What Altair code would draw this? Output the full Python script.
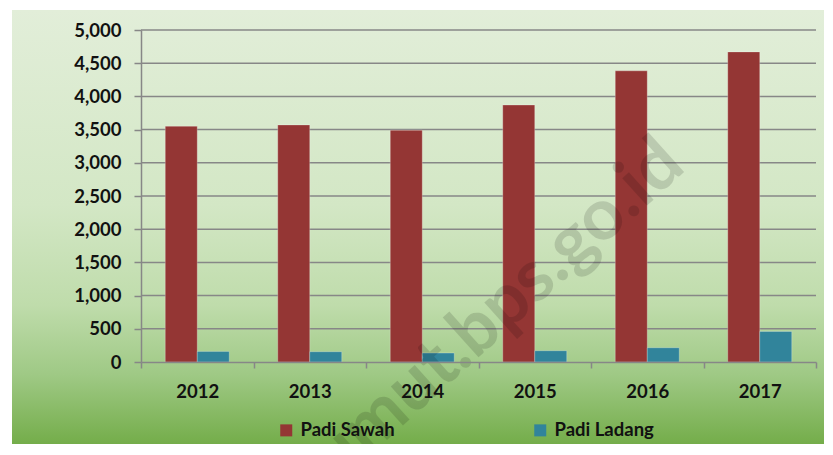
import altair as alt
import pandas as pd

# ---- data ----
years = ["2012", "2013", "2014", "2015", "2016", "2017"]
padi_sawah = [3550, 3570, 3490, 3870, 4385, 4670]
padi_ladang = [160, 155, 135, 170, 215, 460]
series = ["Padi Sawah", "Padi Ladang"]
series_colors = ["#943634", "#31849B"]
y_ticks = [0, 500, 1000, 1500, 2000, 2500, 3000, 3500, 4000, 4500, 5000]
watermark = ["sumut.bps.go.id"]

rows = []
for i, yr in enumerate(years):
    rows.append({"Tahun": yr, "Jenis": series[0], "Nilai": padi_sawah[i]})
    rows.append({"Tahun": yr, "Jenis": series[1], "Nilai": padi_ladang[i]})
df = pd.DataFrame(rows)

W, H = 675, 332
PL, PT, PR, PB = 133, 22, 8, 82
FONT = "Lato"
FS = 18.5

y_scale = alt.Scale(domain=[0, 5000])
y_axis = alt.Axis(
    title=None, values=y_ticks, format=",.0f", grid=False,
    labelOverlap=False,
    domainColor="#878787", domainWidth=1.5,
    tickColor="#878787", tickWidth=1.5, tickSize=7,
    labelPadding=13, labelFont=FONT, labelFontSize=FS,
    labelFontWeight="bold", labelColor="#111111", zindex=2,
)

# background gradient panel covering the whole chart
bg = alt.Chart(pd.DataFrame({"k": [0]})).mark_rect(
    clip=False,
    color=alt.Gradient(
        gradient="linear", x1=0, x2=0, y1=0, y2=1,
        stops=[
            alt.GradientStop(offset=0.0, color="#e2eed9"),
            alt.GradientStop(offset=0.45, color="#d3e7c5"),
            alt.GradientStop(offset=0.68, color="#bfdcab"),
            alt.GradientStop(offset=0.84, color="#9fc985"),
            alt.GradientStop(offset=1.0, color="#74ad4a"),
        ],
    ),
).encode(
    x=alt.value(-PL + 4), x2=alt.value(W + PR),
    y=alt.value(-PT + 2), y2=alt.value(H + PB),
)

grid = alt.Chart(pd.DataFrame({"v": y_ticks[1:]})).mark_rule(
    color="#878787", strokeWidth=1.5
).encode(
    y=alt.Y("v:Q", scale=y_scale, axis=y_axis),
)

bars = alt.Chart(df).mark_bar(
    stroke="#ffffff", strokeOpacity=0.25, strokeWidth=1
).encode(
    x=alt.X(
        "Tahun:N", sort=years,
        scale=alt.Scale(paddingInner=0, paddingOuter=0),
        axis=alt.Axis(
            title=None, labelAngle=0, tickBand="extent", grid=False,
            domainColor="#878787", domainWidth=1.5,
            tickColor="#878787", tickWidth=1.5, tickSize=6,
            labelPadding=14, labelFont=FONT, labelFontSize=FS,
            labelFontWeight="bold", labelColor="#111111", zindex=2,
        ),
    ),
    xOffset=alt.XOffset(
        "Jenis:N", sort=series,
        scale=alt.Scale(paddingInner=0, paddingOuter=0.758),
    ),
    y=alt.Y("Nilai:Q", scale=y_scale, axis=y_axis),
    color=alt.Color(
        "Jenis:N", sort=series,
        scale=alt.Scale(domain=series, range=series_colors),
        legend=alt.Legend(
            title=None, orient="none", direction="horizontal", columns=2,
            legendX=136, legendY=391, padding=0,
            symbolType="square", symbolSize=144, symbolStrokeWidth=0,
            symbolOpacity=1, labelOffset=5, columnPadding=136,
            labelFont=FONT, labelFontSize=FS, labelFontWeight="bold",
            labelColor="#111111",
        ),
    ),
)

wm = alt.Chart(pd.DataFrame({"t": watermark})).mark_text(
    font=FONT, fontSize=72, fontWeight="bold", color="#000000",
    opacity=0.13, angle=318, align="center", baseline="middle", clip=False,
).encode(
    text="t:N", x=alt.value(345), y=alt.value(291),
)

chart = alt.layer(bg, grid, bars, wm).properties(
    width=W, height=H,
    autosize=alt.AutoSizeParams(type="none"),
    padding={"left": PL, "top": PT, "right": PR, "bottom": PB},
).configure_view(stroke=None).configure(background="#ffffff")

chart.save("out.html", embed_options={"renderer": "svg", "actions": False})
